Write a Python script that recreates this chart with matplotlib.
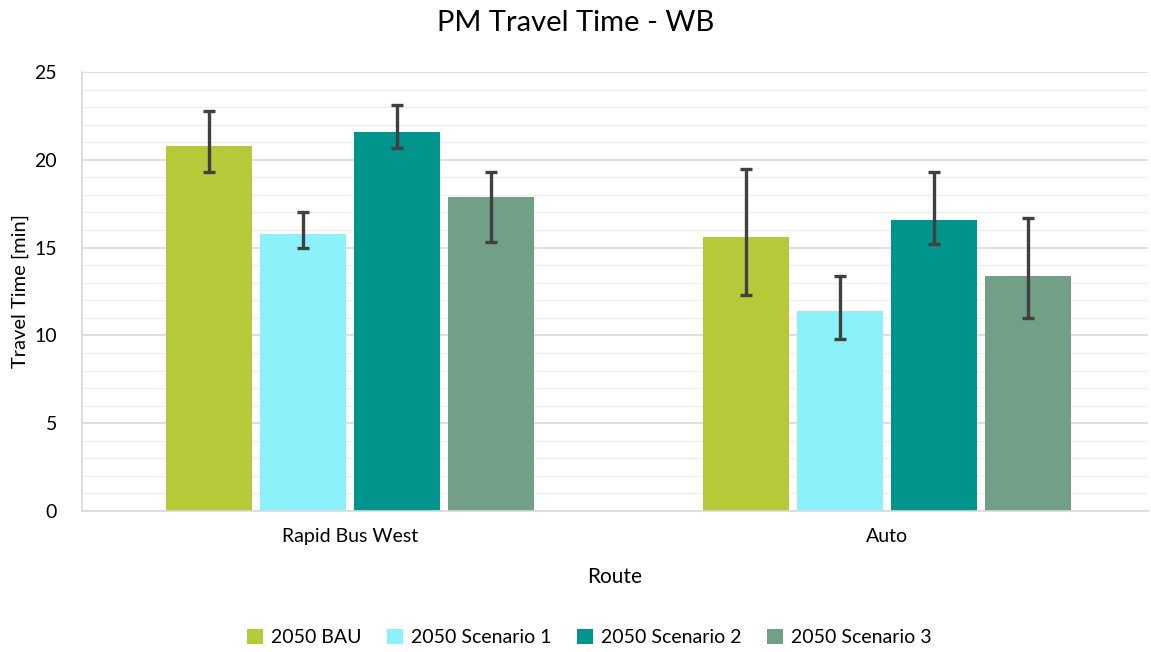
import matplotlib
matplotlib.use("Agg")
import matplotlib.pyplot as plt
import numpy as np
from matplotlib.ticker import MultipleLocator

plt.rcParams['font.family'] = ['Lato', 'DejaVu Sans']

categories = ["Rapid Bus West", "Auto"]
series = ["2050 BAU", "2050 Scenario 1", "2050 Scenario 2", "2050 Scenario 3"]
values = {
    "2050 BAU": [20.8, 15.6],
    "2050 Scenario 1": [15.8, 11.4],
    "2050 Scenario 2": [21.6, 16.6],
    "2050 Scenario 3": [17.9, 13.4],
}
err_low = {
    "2050 BAU": [19.3, 12.3],
    "2050 Scenario 1": [15.0, 9.8],
    "2050 Scenario 2": [20.7, 15.2],
    "2050 Scenario 3": [15.3, 11.0],
}
err_high = {
    "2050 BAU": [22.8, 19.5],
    "2050 Scenario 1": [17.0, 13.4],
    "2050 Scenario 2": [23.1, 19.3],
    "2050 Scenario 3": [19.3, 16.7],
}
colors = ["#B6C939", "#8DF1FB", "#00958C", "#71A086"]

fig = plt.figure(figsize=(11.51, 6.52), dpi=100)
ax = fig.add_axes([82/1151, 1-511/652, (1148-82)/1151, (511-72)/652])

x = np.arange(len(categories))
width = 0.16
step = 0.175
for i, s in enumerate(series):
    pos = x + (i - 1.5) * step
    v = np.array(values[s])
    lo = v - np.array(err_low[s])
    hi = np.array(err_high[s]) - v
    ax.bar(pos, v, width, color=colors[i], label=s, zorder=2)
    ax.errorbar(pos, v, yerr=[lo, hi], fmt='none', ecolor='#404040',
                elinewidth=2.4, capsize=4.5, capthick=2.4, zorder=3)

ax.set_xlim(-0.499, 1.486)
ax.set_ylim(0, 25)
ax.yaxis.set_major_locator(MultipleLocator(5))
ax.yaxis.set_minor_locator(MultipleLocator(1))
ax.grid(axis='y', which='major', color='#D9D9D9', linewidth=1.2, zorder=0)
ax.grid(axis='y', which='minor', color='#EFEFEF', linewidth=1.0, zorder=0)
ax.set_axisbelow(True)
for sp in ['top', 'right']:
    ax.spines[sp].set_visible(False)
ax.spines['left'].set_color('#D9D9D9')
ax.spines['bottom'].set_color('#D9D9D9')
ax.spines['left'].set_linewidth(1.2)
ax.spines['bottom'].set_linewidth(1.2)
ax.tick_params(axis='both', which='both', length=0, labelsize=14, colors='#000000')
ax.tick_params(axis='y', pad=18)
ax.tick_params(axis='x', pad=12)
ax.set_xticks(x)
ax.set_xticklabels(categories)

ax.set_xlabel("Route", fontsize=15, labelpad=16)
ax.set_ylabel("Travel Time [min]", fontsize=14.5)
ax.yaxis.set_label_coords(-0.050, 0.5)
fig.suptitle("PM Travel Time - WB", fontsize=21, y=0.985)

fig.legend(loc='lower center', bbox_to_anchor=(0.512, -0.018), ncol=4, frameon=False,
           fontsize=14, handlelength=0.8, handleheight=0.8, columnspacing=1.35,
           handletextpad=0.4)

fig.savefig("out.png", dpi=100)
